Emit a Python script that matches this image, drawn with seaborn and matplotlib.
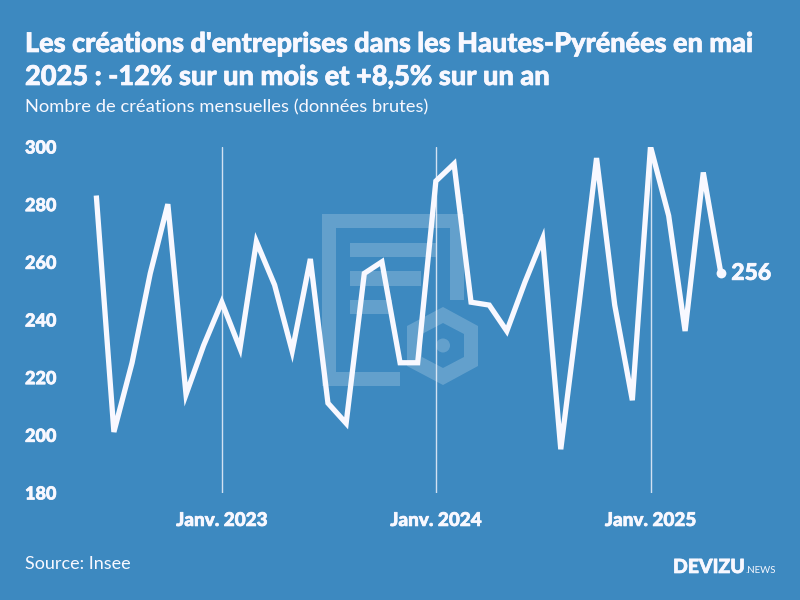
import pandas as pd
import matplotlib.pyplot as plt
import matplotlib.patches as mpatches
import matplotlib.patheffects as pe
import seaborn as sns

# Monthly data, June 2022 to May 2025
months = pd.date_range("2022-06-01", "2025-05-01", freq="MS")
creations = [283, 201, 225, 256, 280, 214, 231,
             246, 230, 267, 252, 229, 261, 211, 204, 256, 260, 225, 225,
             288, 294, 246, 245, 236, 253, 268, 195, 245, 296, 245, 212,
             300, 276, 236, 291, 256]
year_ticks = pd.to_datetime(["2023-01-01", "2024-01-01", "2025-01-01"])
year_labels = ["Janv. 2023", "Janv. 2024", "Janv. 2025"]
y_ticks = [180, 200, 220, 240, 260, 280, 300]

BG = "#3d89c0"
FG = "#f8f8ff"

df = pd.DataFrame({"mois": months, "creations": creations})

sns.set_theme(style="white")
plt.rcParams["font.family"] = ["Lato", "DejaVu Sans"]

fig = plt.figure(figsize=(8, 6), dpi=100, facecolor=BG)

# thin outline to thicken the bold text a bit
heavy = [pe.withStroke(linewidth=0.5, foreground=FG)]

# Watermark logo, in pixel coordinates
bg_ax = fig.add_axes([0, 0, 1, 1], zorder=0)
bg_ax.set_xlim(0, 800)
bg_ax.set_ylim(600, 0)
bg_ax.axis("off")
wm = {"facecolor": "white", "alpha": 0.2, "linewidth": 0}
for x0, y0, x1, y1 in [(322, 214, 464, 228), (322, 228, 336, 386),
                       (336, 372, 400, 386), (450, 228, 464, 300),
                       (350, 243, 436, 257), (350, 271, 421, 286),
                       (350, 300, 392, 314)]:
    bg_ax.add_patch(mpatches.Rectangle((x0, y0), x1 - x0, y1 - y0, **wm))
hex_outer = [(443, 307), (478, 326), (478, 366), (443, 385), (407, 366), (407, 326)]
hex_inner = [(443, 323), (464, 334), (464, 357), (443, 368), (422, 357), (422, 334)]
path = mpatches.Path(hex_outer + [hex_outer[0]] + hex_inner[::-1] + [hex_inner[-1]],
                     [1, 2, 2, 2, 2, 2, 79, 1, 2, 2, 2, 2, 2, 79])
bg_ax.add_patch(mpatches.PathPatch(path, **wm))
bg_ax.add_patch(mpatches.Circle((443, 345.5), 7, **wm))

# Main chart
ax = fig.add_axes([85 / 800, 1 - 492.5 / 600, 695 / 800, 346 / 600], zorder=1)
ax.patch.set_alpha(0)
sns.lineplot(data=df, x="mois", y="creations", ax=ax, color=FG, linewidth=3.8,
             solid_joinstyle="miter", solid_capstyle="butt", zorder=3)

px_per_day = (650.5 - 221.8) / (year_ticks[2] - year_ticks[0]).days
ax.set_xlim(year_ticks[0] - pd.Timedelta(days=(221.8 - 85) / px_per_day),
            year_ticks[0] + pd.Timedelta(days=(780 - 221.8) / px_per_day))
ax.set_ylim(180, 300)

ax.set_xticks(year_ticks)
ax.set_xticklabels(year_labels)
ax.set_yticks(y_ticks)
ax.set_xlabel("")
ax.set_ylabel("")
ax.grid(axis="x", color=FG, linewidth=1, alpha=0.8)
ax.grid(axis="y", visible=False)
sns.despine(ax=ax, left=True, bottom=True, top=True, right=True)
ax.tick_params(axis="x", length=0, pad=14, labelcolor=FG, labelsize=13.6)
ax.tick_params(axis="y", length=0, pad=43.2, labelcolor=FG, labelsize=13)
for lab in ax.get_xticklabels():
    lab.set_fontweight("black")
    lab.set_path_effects(heavy)
for lab in ax.get_yticklabels():
    lab.set_fontweight("black")
    lab.set_horizontalalignment("left")
    lab.set_path_effects(heavy)

# Last point and its label
last = df.iloc[-1]
ax.scatter([last["mois"]], [last["creations"]], s=50, color=FG, zorder=4, linewidth=0)
ax.annotate(str(last["creations"]), (last["mois"], last["creations"]),
            xytext=(7.5, 0), textcoords="offset points", va="center", ha="left",
            color=FG, fontsize=16.5, fontweight="black", path_effects=heavy)

# Titles and footer
fig.text(25 / 800, 1 - 52 / 600, "Les créations d'entreprises dans les Hautes-Pyrénées en mai",
         color=FG, fontsize=19.5, fontweight="black", va="baseline", path_effects=heavy)
fig.text(25 / 800, 1 - 85 / 600, "2025 : -12% sur un mois et +8,5% sur un an",
         color=FG, fontsize=19.6, fontweight="black", va="baseline", path_effects=heavy)
fig.text(25 / 800, 1 - 112 / 600, "Nombre de créations mensuelles (données brutes)",
         color=FG, fontsize=13.2, va="baseline")
fig.text(25 / 800, 1 - 569 / 600, "Source: Insee", color=FG, fontsize=13, va="baseline")
fig.text(673 / 800, 1 - 573 / 600, "DEVIZU", color=FG, fontsize=14, fontweight="black",
         va="baseline", path_effects=heavy)
fig.text(745 / 800, 1 - 573 / 600, ".NEWS", color=FG, fontsize=7, va="baseline")

fig.savefig("out.png", dpi=100, facecolor=BG)
plt.close(fig)
